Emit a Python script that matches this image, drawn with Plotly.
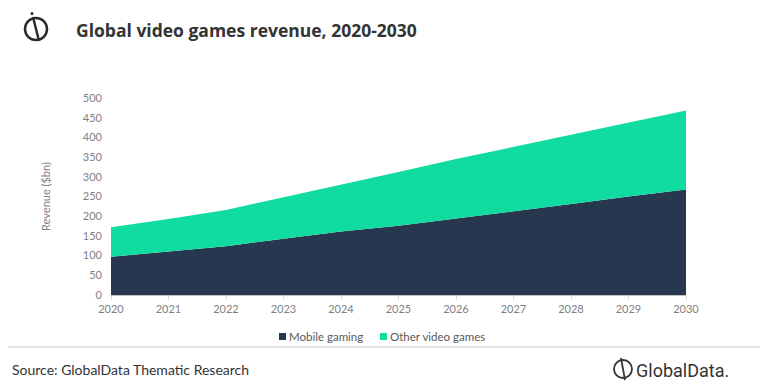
import plotly.graph_objects as go

years = [2020, 2021, 2022, 2023, 2024, 2025, 2026, 2027, 2028, 2029, 2030]
mobile_gaming = [97, 110, 124, 143, 161, 176, 194, 212, 231, 250, 268]
other_video_games = [75, 83, 92, 105, 118, 136, 151, 164, 176, 187, 200]
y_ticks = [0, 50, 100, 150, 200, 250, 300, 350, 400, 450, 500]
series_names = ["Mobile gaming", "Other video games"]

NAVY = "#27374f"
GREEN = "#10dba0"
GREY = "#7f7f7f"

OFF = 8  # page body margin
W, H = 768 - OFF, 392 - OFF
L, R, T, B = 111 - OFF, 82, 98 - OFF, 97
PW, PH = W - L - R, H - T - B


def px(x):
    return (x - OFF - L) / PW


def py(y):
    return (H - B - (y - OFF)) / PH


fig = go.Figure()
fig.add_trace(go.Scatter(
    x=years, y=mobile_gaming, name=series_names[0], stackgroup="one",
    mode="lines", line=dict(width=0, color=NAVY), fillcolor=NAVY, showlegend=False,
))
fig.add_trace(go.Scatter(
    x=years, y=other_video_games, name=series_names[1], stackgroup="one",
    mode="lines", line=dict(width=0, color=GREEN), fillcolor=GREEN, showlegend=False,
))

shapes = []
annotations = []
# logo (top-left)
cx, cy, r = 36, 29, 11
shapes.append(dict(type="circle", xref="paper", yref="paper",
                   x0=px(cx - r), x1=px(cx + r), y0=py(cy + r), y1=py(cy - r),
                   line=dict(color="#2b2b2b", width=2.5)))
shapes.append(dict(type="line", xref="paper", yref="paper",
                   x0=px(cx - 3), y0=py(cy - 12), x1=px(cx + 3), y1=py(cy + 12),
                   line=dict(color="#2b2b2b", width=2.5)))
shapes.append(dict(type="circle", xref="paper", yref="paper",
                   x0=px(cx - 5.5), x1=px(cx - 2.5), y0=py(cy - 14), y1=py(cy - 17),
                   fillcolor="#2b2b2b", line=dict(width=0)))
# footer separator
shapes.append(dict(type="line", xref="paper", yref="paper",
                   x0=px(OFF), x1=px(W + OFF), y0=py(347), y1=py(347),
                   line=dict(color="#d9d9d9", width=1.5)))
# footer logo
fx, fy, fr = 623, 369, 9
shapes.append(dict(type="circle", xref="paper", yref="paper",
                   x0=px(fx - fr), x1=px(fx + fr), y0=py(fy + fr), y1=py(fy - fr),
                   line=dict(color="#333333", width=1.8)))
shapes.append(dict(type="line", xref="paper", yref="paper",
                   x0=px(fx - 2), y0=py(fy - 11), x1=px(fx + 2), y1=py(fy + 11),
                   line=dict(color="#333333", width=1.8)))

# custom legend (small squares + labels)
legend_pos = [(279, NAVY), (380, GREEN)]
for (lx, col), name in zip(legend_pos, series_names):
    shapes.append(dict(type="rect", xref="paper", yref="paper",
                       x0=px(lx), x1=px(lx + 7), y0=py(340), y1=py(333),
                       fillcolor=col, line=dict(width=0)))
    annotations.append(dict(text=name, xref="paper", yref="paper",
                            x=px(lx + 8), y=py(336.5), xanchor="left", yanchor="middle",
                            showarrow=False,
                            font=dict(family="Lato", size=11.5, color="#595959")))

annotations += [
    dict(text="<b>Global video games revenue, 2020-2030</b>", xref="paper", yref="paper",
         x=px(74), y=py(30), xanchor="left", yanchor="middle", showarrow=False,
         font=dict(family="Open Sans", size=17.5, color="#333333")),
    dict(text="Source: GlobalData Thematic Research", xref="paper", yref="paper",
         x=px(10), y=py(369), xanchor="left", yanchor="middle", showarrow=False,
         font=dict(family="Lato", size=14, color="#333333")),
    dict(text="GlobalData.", xref="paper", yref="paper",
         x=px(634), y=py(370), xanchor="left", yanchor="middle", showarrow=False,
         font=dict(family="Roboto", size=18, color="#333333")),
]

fig.update_layout(
    width=W, height=H,
    margin=dict(l=L, r=R, t=T, b=B, pad=0),
    paper_bgcolor="white", plot_bgcolor="white",
    font=dict(family="Lato", size=11, color=GREY),
    showlegend=False,
    xaxis=dict(range=[2020, 2030], tickvals=years, showgrid=False, zeroline=False,
               showline=True, linecolor="#bfbfbf", linewidth=1,
               ticks="outside", ticklen=4, tickcolor="#d9d9d9",
               tickfont=dict(family="Lato", size=11, color=GREY)),
    yaxis=dict(range=[0, 500], tickvals=y_ticks, showgrid=False, zeroline=False,
               showline=False, ticks="", ticklabelstandoff=8,
               title=dict(text="Revenue ($bn)", standoff=30,
                          font=dict(family="Lato", size=11, color=GREY)),
               tickfont=dict(family="Lato", size=11, color=GREY)),
    shapes=shapes,
    annotations=annotations,
)

fig.write_html("out.html")
